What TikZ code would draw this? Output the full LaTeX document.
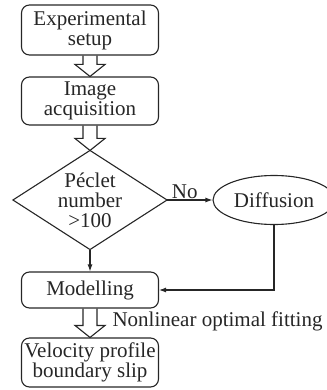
\documentclass[tikz,border=0pt]{standalone}
\usepackage{fontspec}
\setmainfont{Liberation Serif}
\usetikzlibrary{shapes.geometric,arrows.meta,calc}
\newcommand\fatarrow[2]{\draw[fat] let \p1=#1, \p2=#2 in (\x1-7pt,\y1) -- (\x1-7pt,\y2+12pt) -- (\x1-15pt,\y2+12pt) -- (\x1,\y2) -- (\x1+15pt,\y2+12pt) -- (\x1+7pt,\y2+12pt) -- (\x1+7pt,\y1);}
\begin{document}
\begin{tikzpicture}[x=1pt,y=-1pt, line width=1.1pt, draw=black!85,
  every node/.style={font=\fontsize{21}{20}\selectfont, inner sep=0pt, text=black!85},
  box/.style={draw, rounded corners=8pt, minimum width=137pt, align=center},
  fat/.style={line join=miter},
  con/.style={-{Latex[length=7pt,width=5pt]}}
]
\useasboundingbox (0,0) rectangle (326,390);
\node[box, minimum height=50pt] (b1) at (90,30) {Experimental\\setup};
\node[box, minimum height=48pt] (b2) at (90,101) {Image\\acquisition};
\node[minimum width=153pt, minimum height=98pt, align=center] (d) at (90,200) {Péclet\\number\\>100};
\draw (d.north) -- (d.east) -- (d.south) -- (d.west) -- cycle;
\node[draw, ellipse, minimum width=122pt, minimum height=49pt] (e) at (274,200) {Diffusion};
\node[box, minimum height=36pt] (m) at (90,290) {Modelling};
\node[box, minimum height=49pt] (v) at (90,362.5) {Velocity profile\\boundary slip};
\fatarrow{(b1.south)}{(b2.north)}
\fatarrow{(b2.south)}{(d.north)}
\fatarrow{(m.south)}{(v.north)}
\draw[con] (d.south) -- (m.north);
\draw[con] (d.east) -- node[pos=0.39, above, inner sep=1pt] (no) {No} (e.west);
\draw[con] (e.south) |- (m.east);
\node[anchor=west, inner sep=1pt] (lbl) at ($(m.south)+(21,13)$) {Nonlinear optimal fitting};
\end{tikzpicture}
\end{document}
